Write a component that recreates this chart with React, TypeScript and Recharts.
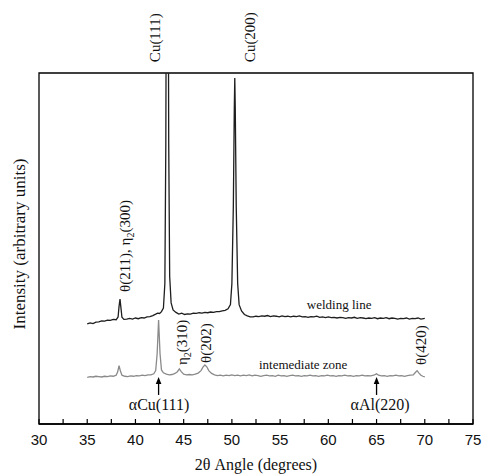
import React from "react";
import { LineChart, Line, XAxis, YAxis, ReferenceArea, ReferenceDot } from "recharts";

// 2θ (degrees) and intensity (arbitrary, 0-100 of plot height)
const weldingLine: [number, number][] = [
  [35.0, 28.5], [35.3, 28.8], [35.6, 28.6], [35.9, 29.0], [36.2, 29.1], [36.5, 29.4], [36.8, 29.3],
  [37.1, 29.6], [37.4, 29.5], [37.7, 29.8], [38.0, 29.7], [38.2, 30.5], [38.3, 33.5], [38.4, 35.6],
  [38.5, 33.0], [38.6, 30.4], [38.8, 29.8], [39.1, 29.9], [39.4, 30.1], [39.7, 29.9], [40.0, 30.2],
  [40.3, 30.0], [40.6, 30.3], [40.9, 30.2], [41.2, 30.5], [41.5, 30.6], [41.8, 30.9], [42.1, 31.3],
  [42.3, 31.6], [42.5, 31.5], [42.7, 32.0], [42.9, 33.0], [43.05, 40], [43.15, 80], [43.2, 130],
  [43.3, 250], [43.4, 130], [43.45, 80], [43.55, 42], [43.7, 34.5], [43.9, 32.5], [44.2, 31.8],
  [44.5, 31.3], [44.8, 31.6], [45.1, 31.2], [45.4, 31.4], [45.7, 31.3], [46.0, 31.6], [46.3, 31.5],
  [46.6, 31.7], [46.9, 31.6], [47.2, 31.8], [47.5, 31.7], [47.8, 31.9], [48.1, 31.8], [48.4, 32.0],
  [48.7, 32.0], [49.0, 32.2], [49.3, 32.4], [49.6, 32.8], [49.85, 34], [50.0, 40], [50.15, 62],
  [50.25, 90], [50.3, 98.6], [50.35, 90], [50.45, 62], [50.6, 40], [50.75, 34], [51.0, 32.2],
  [51.3, 31.2], [51.6, 30.8], [51.9, 30.5], [52.2, 30.5], [52.5, 30.7], [52.8, 30.6], [53.1, 30.8],
  [53.4, 30.7], [53.7, 30.9], [54.0, 30.6], [54.3, 30.8], [54.6, 30.7], [54.9, 30.5], [55.2, 30.8],
  [55.5, 30.6], [55.8, 30.7], [56.1, 30.5], [56.4, 30.7], [56.7, 30.6], [57.0, 30.8], [57.3, 30.5],
  [57.6, 30.6], [57.9, 30.4], [58.2, 30.6], [58.5, 30.5], [58.8, 30.7], [59.1, 30.4], [59.4, 30.5],
  [59.7, 30.3], [60.0, 30.5], [60.3, 30.3], [60.6, 30.4], [60.9, 30.2], [61.2, 30.4], [61.5, 30.3],
  [61.8, 30.1], [62.1, 30.3], [62.4, 30.2], [62.7, 30.4], [63.0, 30.1], [63.3, 30.3], [63.6, 30.2],
  [63.9, 30.0], [64.2, 30.2], [64.5, 30.1], [64.8, 30.3], [65.1, 30.0], [65.4, 30.2], [65.7, 30.1],
  [66.0, 30.3], [66.3, 30.0], [66.6, 30.2], [66.9, 30.1], [67.2, 29.9], [67.5, 30.1], [67.8, 30.0],
  [68.1, 30.2], [68.4, 29.9], [68.7, 30.1], [69.0, 30.0], [69.3, 30.2], [69.6, 29.9], [70.0, 30.1],
];

const intermediateZone: [number, number][] = [
  [35.0, 13.3], [35.3, 13.5], [35.6, 13.4], [35.9, 13.6], [36.2, 13.5], [36.5, 13.4], [36.8, 13.6],
  [37.1, 13.5], [37.4, 13.7], [37.7, 13.6], [38.0, 13.9], [38.15, 14.8], [38.3, 16.6], [38.45, 15.0],
  [38.6, 13.9], [38.9, 13.6], [39.2, 13.5], [39.5, 13.7], [39.8, 13.6], [40.1, 13.8], [40.4, 13.7],
  [40.7, 13.9], [41.0, 13.8], [41.3, 14.0], [41.6, 14.0], [41.9, 14.3], [42.1, 15.2], [42.25, 20],
  [42.4, 29.6], [42.55, 20], [42.7, 15.4], [42.9, 14.6], [43.2, 14.2], [43.5, 14.0], [43.8, 14.1],
  [44.1, 14.4], [44.35, 14.9], [44.55, 15.7], [44.75, 14.9], [45.0, 14.2], [45.3, 14.0], [45.6, 14.1],
  [45.9, 14.0], [46.2, 14.2], [46.5, 14.5], [46.8, 15.2], [47.0, 16.2], [47.2, 16.8], [47.4, 16.3],
  [47.6, 15.2], [47.9, 14.4], [48.2, 14.0], [48.5, 13.8], [48.8, 13.9], [49.1, 13.7], [49.4, 13.9],
  [49.7, 13.8], [50.0, 14.0], [50.3, 13.8], [50.6, 13.9], [50.9, 13.7], [51.2, 13.9], [51.5, 13.8],
  [51.8, 14.0], [52.1, 13.7], [52.4, 13.9], [52.7, 13.8], [53.0, 13.6], [53.3, 13.8], [53.6, 13.9],
  [53.9, 13.7], [54.2, 13.8], [54.5, 13.6], [54.8, 13.9], [55.1, 13.7], [55.4, 13.8], [55.7, 13.6],
  [56.0, 13.8], [56.3, 13.9], [56.6, 13.7], [56.9, 13.8], [57.2, 13.6], [57.5, 13.8], [57.8, 13.7],
  [58.1, 13.9], [58.4, 13.7], [58.7, 13.8], [59.0, 13.6], [59.3, 13.8], [59.6, 13.7], [59.9, 13.9],
  [60.2, 13.7], [60.5, 13.8], [60.8, 13.6], [61.1, 13.8], [61.4, 13.7], [61.7, 13.9], [62.0, 13.7],
  [62.3, 13.8], [62.6, 13.6], [62.9, 13.8], [63.2, 13.7], [63.5, 13.9], [63.8, 13.7], [64.1, 13.8],
  [64.4, 13.7], [64.7, 13.9], [65.0, 14.3], [65.2, 13.9], [65.5, 13.7], [65.8, 13.8], [66.1, 13.6],
  [66.4, 13.8], [66.7, 13.7], [67.0, 13.9], [67.3, 13.7], [67.6, 13.8], [67.9, 13.6], [68.2, 13.8],
  [68.5, 13.9], [68.8, 14.0], [69.0, 14.6], [69.2, 15.2], [69.4, 14.5], [69.6, 13.9], [69.8, 13.6],
  [70.0, 13.4],
];

const xTicks = [30, 32.5, 35, 37.5, 40, 42.5, 45, 47.5, 50, 52.5, 55, 57.5, 60, 62.5, 65, 67.5, 70, 72.5, 75];

// rotated peak labels: [x, y of text start, main, subscript, rest]
const peakLabels: [number, number, string, string, string][] = [
  [42.03, 103.1, "Cu(111)", "", ""],
  [51.89, 103.1, "Cu(200)", "", ""],
  [38.92, 37.6, "θ(211), η", "2", "(300)"],
  [44.83, 16.8, "η", "2", "(310)"],
  [47.32, 17.4, "θ(202)", "", ""],
  [69.63, 16.8, "θ(420)", "", ""],
];

// horizontal labels: [x center, baseline y, text, size]
const textLabels: [number, number, string, number][] = [
  [61.12, 32.8, "welding line", 13],
  [57.39, 15.7, "intemediate zone", 13],
  [42.45, 4.0, "αCu(111)", 16],
  [65.37, 4.0, "αAl(220)", 16],
];

// arrows: [x, tip y]
const arrows: [number, number][] = [
  [42.4, 13.4],
  [65.0, 13.4],
];

const SERIF = "'Liberation Serif', 'Times New Roman', serif";
const SANS = "'Liberation Sans', Arial, sans-serif";

const toData = (arr: [number, number][]) => arr.map(([x, y]) => ({ x, y }));

const XTick = (props: any) => {
  const { x, y, payload } = props;
  const v = payload.value;
  const major = Math.abs(v % 5) < 1e-6;
  return (
    <g>
      <line x1={x} x2={x} y1={y} y2={y - 5} stroke="#000" strokeWidth={1.2} />
      {major && (
        <text x={x} y={y + 21} textAnchor="middle" fontFamily={SANS} fontSize={15} fill="#111">
          {v}
        </text>
      )}
    </g>
  );
};

export default function App() {
  return (
    <div style={{ position: "absolute", left: 0, top: 0, background: "#fff" }}>
      <LineChart width={487} height={475} margin={{ top: 73, right: 14, bottom: 21, left: 0 }}>
        <XAxis
          dataKey="x"
          type="number"
          domain={[30, 75]}
          ticks={xTicks}
          interval={0}
          tickLine={false}
          tickSize={0}
          tickMargin={0}
          tick={<XTick />}
          axisLine={{ stroke: "#000", strokeWidth: 1.3 }}
          height={30}
          allowDataOverflow
          label={{
            content: (p: any) => {
              const vb = p.viewBox;
              return (
                <text x={vb.x + vb.width / 2} y={vb.y + 46} textAnchor="middle" fontFamily={SERIF} fontSize={16} fill="#111">
                  2θ Angle (degrees)
                </text>
              );
            },
          }}
        />
        <YAxis
          type="number"
          domain={[0, 100]}
          allowDataOverflow
          width={39}
          tick={false}
          tickLine={false}
          axisLine={false}
          label={{
            content: (p: any) => {
              const vb = p.viewBox;
              const cx = vb.x + 25;
              const cy = vb.y + 171;
              return (
                <text x={cx} y={cy} transform={`rotate(-90, ${cx}, ${cy})`} textAnchor="middle" fontFamily={SERIF} fontSize={17} fill="#111">
                  Intensity (arbitrary units)
                </text>
              );
            },
          }}
        />
        <ReferenceArea x1={30} x2={75} y1={0} y2={100} fill="none" stroke="#000" strokeWidth={1.3} ifOverflow="visible" />
        <Line
          data={toData(intermediateZone)}
          dataKey="y"
          type="linear"
          stroke="#8a8a8a"
          strokeWidth={1.3}
          dot={false}
          isAnimationActive={false}
        />
        <Line
          data={toData(weldingLine)}
          dataKey="y"
          type="linear"
          stroke="#1e1e1e"
          strokeWidth={1.3}
          dot={false}
          isAnimationActive={false}
        />
        {peakLabels.map(([x, y, main, sub, rest], i) => (
          <ReferenceDot
            key={"p" + i}
            x={x}
            y={y}
            r={0}
            fill="none"
            stroke="none"
            ifOverflow="visible"
            label={(p: any) => {
              const vb = p.viewBox;
              const px = vb.x + vb.width / 2 + 5;
              const py = vb.y + vb.height / 2;
              return (
                <text x={px} y={py} transform={`rotate(-90, ${px}, ${py})`} textAnchor="start" fontFamily={SERIF} fontSize={15} fill="#111">
                  {main}
                  {sub && (
                    <tspan dy={4} fontSize={10}>
                      {sub}
                    </tspan>
                  )}
                  {rest && <tspan dy={sub ? -4 : 0}>{rest}</tspan>}
                </text>
              );
            }}
          />
        ))}
        {textLabels.map(([x, y, t, size], i) => (
          <ReferenceDot
            key={"t" + i}
            x={x}
            y={y}
            r={0}
            fill="none"
            stroke="none"
            ifOverflow="visible"
            label={(p: any) => {
              const vb = p.viewBox;
              return (
                <text x={vb.x + vb.width / 2} y={vb.y + vb.height / 2} textAnchor="middle" fontFamily={SERIF} fontSize={size} fill="#111">
                  {t}
                </text>
              );
            }}
          />
        ))}
        {arrows.map(([x, y], i) => (
          <ReferenceDot
            key={"a" + i}
            x={x}
            y={y}
            r={1}
            ifOverflow="visible"
            shape={(p: any) => {
              const { cx, cy } = p;
              return (
                <g>
                  <line x1={cx} x2={cx} y1={cy + 18} y2={cy + 5} stroke="#000" strokeWidth={1.3} />
                  <path d={`M ${cx} ${cy} L ${cx - 2.8} ${cy + 7} L ${cx + 2.8} ${cy + 7} Z`} fill="#000" />
                </g>
              );
            }}
          />
        ))}
      </LineChart>
    </div>
  );
}
